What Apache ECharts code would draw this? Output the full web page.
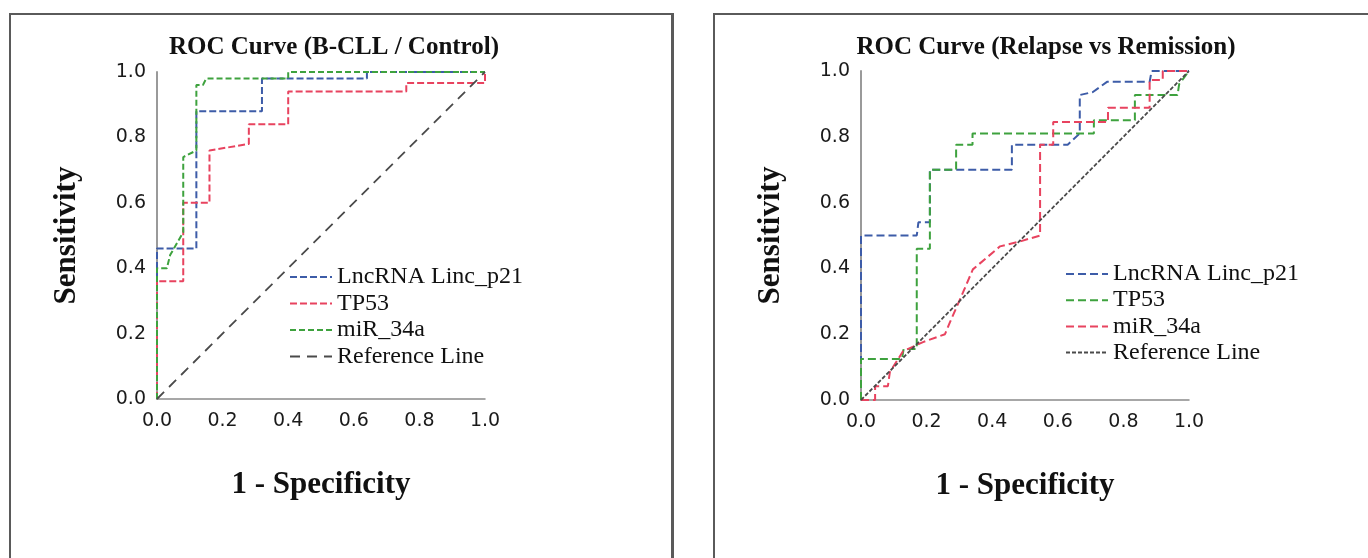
<!DOCTYPE html>
<html>
<head>
<meta charset="utf-8">
<script src="https://cdn.jsdelivr.net/npm/echarts@6/dist/echarts.min.js"></script>
<style>
  html, body { margin: 0; padding: 0; background: #fff; width: 1368px; height: 558px; overflow: hidden; }
  .frame { position: absolute; box-sizing: border-box; border-style: solid; border-color: #5a5a5a; }
  #frameLeft { left: 9px; top: 13px; width: 665px; height: 600px; border-width: 2px 3px 0 2px; }
  #frameRight { left: 713px; top: 13px; width: 700px; height: 600px; border-width: 2px 0 0 2px; }
  .chart { position: absolute; top: 0; height: 558px; }
  #rocLeft { left: 0; width: 690px; }
  #rocRight { left: 690px; width: 678px; }
</style>
</head>
<body>
<div id="frameLeft" class="frame"></div>
<div id="frameRight" class="frame"></div>
<div id="rocLeft" class="chart"></div>
<div id="rocRight" class="chart"></div>
<script>
// axis ticks
const tickValues = [0, 0.2, 0.4, 0.6, 0.8, 1.0];
const refLine = [[0, 0], [1, 1]];

// B-CLL / Control  ([1 - specificity, sensitivity])
const leftLinc = [[0, 0], [0, 0.46], [0.12, 0.46], [0.12, 0.88], [0.32, 0.88], [0.32, 0.98], [0.64, 0.98], [0.64, 1.0], [1, 1]];
const leftTp53 = [[0, 0], [0, 0.36], [0.08, 0.36], [0.08, 0.60], [0.16, 0.60], [0.16, 0.76], [0.28, 0.78], [0.28, 0.84], [0.40, 0.84], [0.40, 0.94], [0.76, 0.94], [0.76, 0.966], [1, 0.966], [1, 1]];
const leftMir = [[0, 0], [0, 0.40], [0.03, 0.40], [0.04, 0.44], [0.08, 0.51], [0.08, 0.74], [0.12, 0.76], [0.12, 0.96], [0.14, 0.96], [0.15, 0.98], [0.40, 0.98], [0.40, 1.0], [1, 1]];

// Relapse vs Remission
const rightLinc = [[0, 0], [0, 0.50], [0.17, 0.50], [0.175, 0.54], [0.21, 0.54], [0.21, 0.70], [0.46, 0.70], [0.46, 0.776], [0.63, 0.776], [0.667, 0.81], [0.667, 0.927], [0.707, 0.936], [0.75, 0.967], [0.88, 0.967], [0.886, 1.0], [1, 1]];
const rightTp53 = [[0, 0], [0, 0.125], [0.125, 0.125], [0.13, 0.155], [0.17, 0.155], [0.17, 0.46], [0.21, 0.46], [0.21, 0.70], [0.29, 0.70], [0.29, 0.776], [0.34, 0.776], [0.34, 0.81], [0.71, 0.81], [0.71, 0.85], [0.835, 0.85], [0.835, 0.927], [0.965, 0.927], [0.97, 0.96], [1, 1]];
const rightMir = [[0, 0], [0.043, 0], [0.043, 0.042], [0.082, 0.042], [0.088, 0.085], [0.128, 0.148], [0.189, 0.176], [0.256, 0.20], [0.271, 0.236], [0.311, 0.327], [0.341, 0.397], [0.424, 0.467], [0.485, 0.482], [0.546, 0.50], [0.546, 0.776], [0.586, 0.776], [0.586, 0.845], [0.753, 0.845], [0.753, 0.888], [0.88, 0.888], [0.88, 0.973], [0.92, 0.973], [0.92, 1.0], [1, 1]];

const BLUE = '#3d5ca8';
const RED = '#e8435f';
const GREEN = '#3ea23e';
const GREY = '#4a4a4a';

function axis(name, gap, isX) {
  return {
    type: 'value',
    min: 0,
    max: 1,
    interval: 0.2,
    name: name,
    nameLocation: 'middle',
    nameGap: gap,
    nameTextStyle: { fontFamily: 'Liberation Serif', fontWeight: 'bold', fontSize: 31, color: '#111' },
    axisLine: { show: true, lineStyle: { color: isX ? '#8a8a8a' : '#9a9a9a', width: isX ? 1.5 : 2 } },
    axisTick: { show: false },
    splitLine: { show: false },
    axisLabel: {
      margin: isX ? 13 : 11,
      fontFamily: 'DejaVu Sans',
      fontSize: 19,
      color: '#1a1a1a',
      formatter: v => tickValues.includes(+v.toFixed(1)) ? v.toFixed(1) : ''
    }
  };
}

function curve(name, data, color, dash, width) {
  return {
    name: name,
    type: 'line',
    data: data,
    symbol: 'none',
    silent: true,
    color: color,
    lineStyle: { color: color, width: width || 2, type: dash }
  };
}

function makeOption(cfg) {
  return {
    animation: false,
    backgroundColor: 'transparent',
    graphic: [{
      type: 'text',
      x: cfg.titleX,
      y: 48,
      style: {
        text: cfg.title,
        font: 'bold 25px "Liberation Serif"',
        fill: '#111',
        align: 'center',
        verticalAlign: 'middle'
      }
    }],
    grid: { left: cfg.gridLeft, top: cfg.gridTop, width: 328, height: cfg.gridHeight },
    legend: {
      orient: 'vertical',
      left: cfg.legendLeft,
      top: cfg.legendTop,
      padding: 0,
      itemWidth: 42,
      itemHeight: 14,
      itemGap: cfg.legendGap,
      selectedMode: false,
      itemStyle: { opacity: 0 },
      textStyle: { fontFamily: 'Liberation Serif', fontSize: 24, lineHeight: 24, color: '#111' },
      data: cfg.series.map(s => s.name)
    },
    xAxis: axis('1 - Specificity', 70, true),
    yAxis: axis('Sensitivity', 75, false),
    series: cfg.series
  };
}

var leftChart = echarts.init(document.getElementById('rocLeft'));
leftChart.setOption(makeOption({
  title: 'ROC Curve (B-CLL / Control)',
  titleX: 334,
  gridLeft: 157,
  gridTop: 72,
  gridHeight: 327,
  legendLeft: 289,
  legendTop: 265,
  legendGap: 2.5,
  series: [
    curve('LncRNA Linc_p21', leftLinc, BLUE, [7, 3]),
    curve('TP53', leftTp53, RED, [7, 3]),
    curve('miR_34a', leftMir, GREEN, [6, 3]),
    curve('Reference Line', refLine, GREY, [10, 7], 1.8)
  ]
}));

var rightChart = echarts.init(document.getElementById('rocRight'));
rightChart.setOption(makeOption({
  title: 'ROC Curve (Relapse vs Remission)',
  titleX: 356,
  gridLeft: 171,
  gridTop: 71,
  gridHeight: 329,
  legendLeft: 375,
  legendTop: 262,
  legendGap: 2.2,
  series: [
    curve('LncRNA Linc_p21', rightLinc, BLUE, [8, 4]),
    curve('TP53', rightTp53, GREEN, [8, 4]),
    curve('miR_34a', rightMir, RED, [8, 4]),
    curve('Reference Line', refLine, GREY, [4, 2], 1.8)
  ]
}));
</script>
</body>
</html>
